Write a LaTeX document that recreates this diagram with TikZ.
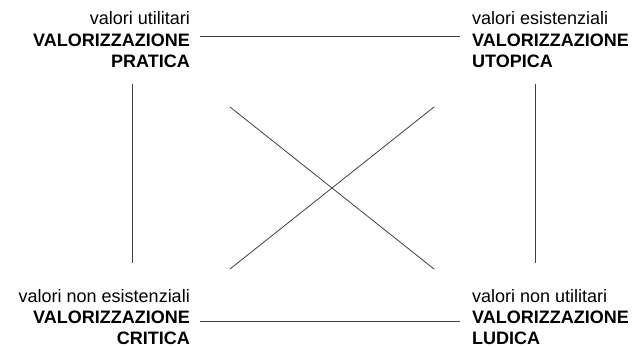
\documentclass[tikz,border=0pt]{standalone}
\usepackage{fontspec}
\setmainfont{Liberation Sans}
\begin{document}
\begin{tikzpicture}[x=1pt,y=-1pt,
  lab/.style={inner sep=0pt, font=\fontsize{18}{21.5}\selectfont},
  hd/.style={inner sep=0pt, font=\fontsize{18}{21.5}\selectfont\bfseries},
  ln/.style={line width=0.8pt, black!75}]
\useasboundingbox (0,0) rectangle (633,347);
% top left
\node[lab, anchor=base east] (tla) at (190,25) {valori utilitari};
\node[hd, anchor=base east] (tlb) at (190,47) {VALORIZZAZIONE};
\node[hd, anchor=base east] (tlc) at (190,68) {PRATICA};
% top right
\node[lab, anchor=base west] (tra) at (472,25) {valori esistenziali};
\node[hd, anchor=base west] (trb) at (472,47) {VALORIZZAZIONE};
\node[hd, anchor=base west] (trc) at (472,68) {UTOPICA};
% bottom left
\node[lab, anchor=base east] (bla) at (190,302.5) {valori non esistenziali};
\node[hd, anchor=base east] (blb) at (190,323.5) {VALORIZZAZIONE};
\node[hd, anchor=base east] (blc) at (190,344.5) {CRITICA};
% bottom right
\node[lab, anchor=base west] (bra) at (472,302.5) {valori non utilitari};
\node[hd, anchor=base west] (brb) at (472,323.5) {VALORIZZAZIONE};
\node[hd, anchor=base west] (brc) at (472,344.5) {LUDICA};
% line ends
\coordinate (t1) at (200,36.7); \coordinate (t2) at (460,36.7);
\coordinate (b1) at (200,321); \coordinate (b2) at (460,321);
\coordinate (l1) at (132,84); \coordinate (l2) at (132,263);
\coordinate (r1) at (535,84); \coordinate (r2) at (535,263);
\coordinate (d1) at (230,107); \coordinate (d2) at (434,269);
\coordinate (d3) at (230,269); \coordinate (d4) at (434,107);
\draw[ln] (t1) -- (t2);
\draw[ln] (b1) -- (b2);
\draw[ln] (l1) -- (l2);
\draw[ln] (r1) -- (r2);
\draw[ln] (d1) -- (d2);
\draw[ln] (d3) -- (d4);
\end{tikzpicture}
\end{document}
